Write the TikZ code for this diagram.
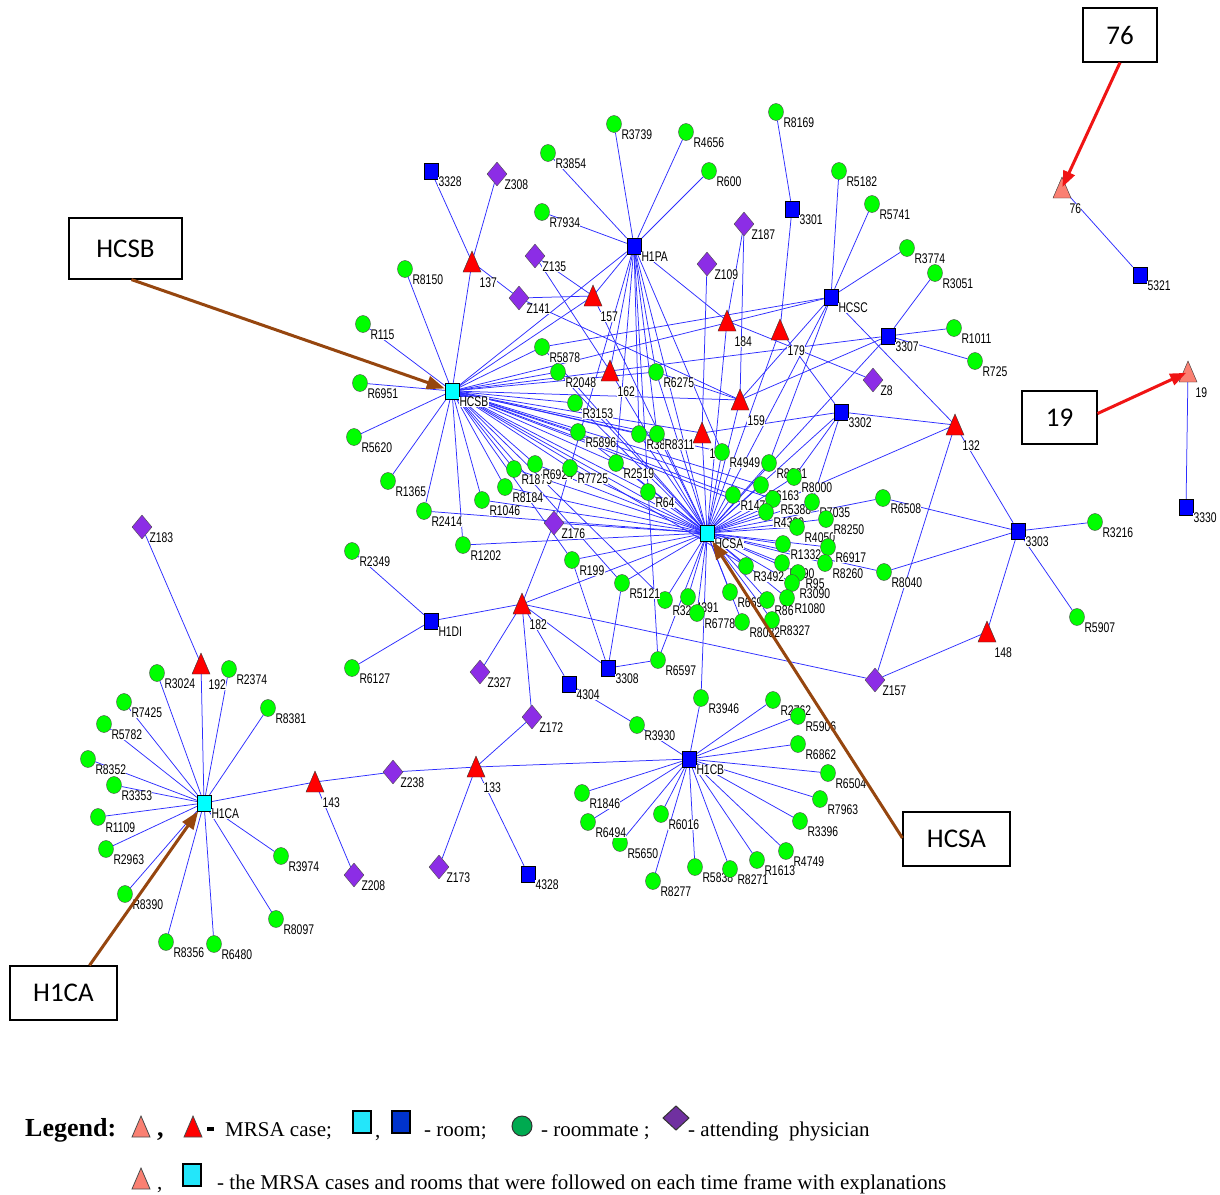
\documentclass[tikz,border=0pt]{standalone}
\usepackage{fontspec}
\setmainfont{Liberation Serif}
\newfontfamily\lblfont[FakeStretch=0.74]{Liberation Sans}
\newfontfamily\boxfont{Carlito}
\usetikzlibrary{shapes.geometric,arrows.meta,calc}
\pgfdeclarelayer{bg}
\pgfsetlayers{bg,main}
\definecolor{rmg}{RGB}{0,255,0}
\definecolor{rmb}{RGB}{0,0,255}
\definecolor{rmc}{RGB}{0,255,255}
\definecolor{cred}{RGB}{255,0,0}
\definecolor{cpink}{RGB}{250,128,114}
\definecolor{dviol}{RGB}{140,45,230}
\definecolor{edgeb}{RGB}{45,45,255}
\definecolor{arrbrown}{RGB}{150,70,15}
\definecolor{arrred}{RGB}{240,20,20}
\definecolor{lgcyan}{RGB}{35,230,250}
\definecolor{lgblue}{RGB}{0,51,204}
\definecolor{lggreen}{RGB}{0,170,80}
\definecolor{lgviol}{RGB}{112,48,160}
\tikzset{
  rmnode/.style={ellipse, draw=black!70, line width=0.4pt, fill=rmg, minimum width=15pt, minimum height=17pt, inner sep=0},
  roomnode/.style={rectangle, draw=black, line width=0.5pt, fill=rmb, minimum width=14pt, minimum height=16pt, inner sep=0},
  roomcy/.style={roomnode, fill=rmc},
  docnode/.style={diamond, draw=black!70, line width=0.4pt, fill=dviol, minimum width=20pt, minimum height=24pt, inner sep=0},
  lbl/.style={font=\lblfont\fontsize{14}{14}\selectfont, fill=white, inner sep=0.3pt, anchor=west},
  edge/.style={draw=edgeb, line width=0.75pt},
  callout/.style={draw=black, line width=1.2pt, fill=white, font=\boxfont\fontsize{27}{27}\selectfont},
  brownarrow/.style={draw=arrbrown, line width=3pt, -{Triangle[length=18pt,width=13pt]}},
  redarrow/.style={draw=arrred, line width=3pt, -{Triangle[length=16pt,width=12pt]}},
  lgtext/.style={font=\fontsize{21}{21}\selectfont, anchor=base west, inner sep=0}
}
\newcommand\mknd[5]{\node[#2] (#1) at (#3,#4) {};\node[lbl] at (#3+7,#4+11) {#5};}
\newcommand\mktri[5]{\coordinate (#1) at (#3,#4);
  \filldraw[fill=#2, draw=black!80, line width=0.4pt] (#3,#4-11) -- (#3-9,#4+10) -- (#3+9,#4+10) -- cycle;
  \node[lbl] at (#3+7,#4+21) {#5};}
\begin{document}
\begin{tikzpicture}[x=1pt,y=-1pt]
\useasboundingbox (0,0) rectangle (1220,1194);
\begin{pgfonlayer}{bg}
\fill[white] (0,0) rectangle (1220,1194);
\end{pgfonlayer}
% ---------- nodes ----------
\mknd{r3739}{rmnode}{614}{124}{R3739}
\mknd{r4656}{rmnode}{686}{132}{R4656}
\mknd{r600}{rmnode}{709}{171}{R600}
\mknd{r8169}{rmnode}{776}{112}{R8169}
\mknd{r3854}{rmnode}{548}{153}{R3854}
\mknd{s3328}{roomnode}{431}{171}{3328}
\mknd{z308}{docnode}{497}{174}{Z308}
\mknd{r7934}{rmnode}{542}{212}{R7934}
\mknd{s3301}{roomnode}{792}{209}{3301}
\mknd{z187}{docnode}{744}{224}{Z187}
\mknd{r5182}{rmnode}{839}{171}{R5182}
\mknd{r5741}{rmnode}{872}{204}{R5741}
\mknd{h1pa}{roomnode}{634}{246}{H1PA}
\mknd{z135}{docnode}{535}{256}{Z135}
\mknd{z109}{docnode}{707}{264}{Z109}
\mknd{r3774}{rmnode}{907}{248}{R3774}
\mknd{r3051}{rmnode}{935}{273}{R3051}
\mknd{r8150}{rmnode}{405}{269}{R8150}
\mktri{t137}{cred}{472}{262}{137}
\mknd{z141}{docnode}{519}{298}{Z141}
\mktri{t157}{cred}{593}{296}{157}
\mknd{hcsc}{roomnode}{831}{297}{HCSC}
\mktri{t184}{cred}{727}{321}{184}
\mktri{t179}{cred}{780}{330}{179}
\mknd{s3307}{roomnode}{888}{336}{3307}
\mknd{r1011}{rmnode}{954}{328}{R1011}
\mknd{r725}{rmnode}{975}{361}{R725}
\mknd{r115}{rmnode}{363}{324}{R115}
\mknd{r5878}{rmnode}{542}{347}{R5878}
\mknd{r2048}{rmnode}{558}{372}{R2048}
\mktri{t162}{cred}{610}{371}{162}
\mknd{r6275}{rmnode}{656}{372}{R6275}
\mknd{z8}{docnode}{873}{380}{Z8}
\mknd{r6951}{rmnode}{360}{383}{R6951}
\mknd{hcsb}{roomcy}{452}{391}{HCSB}
\mktri{t159}{cred}{740}{400}{159}
\mknd{r3153}{rmnode}{575}{403}{R3153}
\mknd{s3302}{roomnode}{841}{412}{3302}
\mktri{t132}{cred}{955}{425}{132}
\mknd{r5896}{rmnode}{578}{432}{R5896}
\mknd{r38}{rmnode}{639}{434}{R38}
\mknd{r8311}{rmnode}{657}{434}{R8311}
\mktri{t1}{cred}{702}{433}{1}
\mknd{r4949}{rmnode}{722}{452}{R4949}
\mknd{r5620}{rmnode}{354}{437}{R5620}
\mknd{r8291}{rmnode}{769}{463}{R8221}
\mknd{r1474}{rmnode}{733}{495}{R1474}
\mknd{r6163}{rmnode}{761}{485}{R6163}
\mknd{r8000}{rmnode}{794}{477}{R8000}
\mknd{r5388}{rmnode}{773}{499}{R5388}
\mknd{r4399}{rmnode}{766}{512}{R4399}
\mknd{r7035}{rmnode}{812}{502}{R7035}
\mknd{r4050}{rmnode}{797}{527}{R4050}
\mknd{r8250}{rmnode}{826}{519}{R8250}
\mknd{r1332}{rmnode}{783}{544}{R1332}
\mknd{r6917}{rmnode}{828}{547}{R6917}
\mknd{r3492}{rmnode}{746}{566}{R3492}
\mknd{r3905}{rmnode}{782}{563}{R390}
\mknd{r4195}{rmnode}{798}{573}{R95}
\mknd{r8260}{rmnode}{825}{563}{R8260}
\mknd{r3090}{rmnode}{792}{583}{R3090}
\mknd{r6696}{rmnode}{730}{592}{R6696}
\mknd{r1080}{rmnode}{787}{598}{R1080}
\mknd{r8626}{rmnode}{767}{600}{R86}
\mknd{r3247}{rmnode}{665}{600}{R324}
\mknd{r4391}{rmnode}{688}{597}{4391}
\mknd{r6778}{rmnode}{697}{613}{R6778}
\mknd{r8032}{rmnode}{742}{622}{R8032}
\mknd{r8327}{rmnode}{772}{620}{R8327}
\mknd{r5121}{rmnode}{622}{583}{R5121}
\mknd{r199}{rmnode}{572}{560}{R199}
\mknd{r2519}{rmnode}{616}{463}{R2519}
\mknd{r64}{rmnode}{648}{492}{R64}
\mknd{r1875}{rmnode}{514}{469}{R1875}
\mknd{r6924}{rmnode}{535}{464}{R6924}
\mknd{r7725}{rmnode}{570}{468}{R7725}
\mknd{r8184}{rmnode}{505}{487}{R8184}
\mknd{r1046}{rmnode}{482}{500}{R1046}
\mknd{r2414}{rmnode}{424}{511}{R2414}
\mknd{r1365}{rmnode}{388}{481}{R1365}
\mknd{r1202}{rmnode}{463}{545}{R1202}
\mknd{hcsa}{roomcy}{707}{533}{HCSA}
\mknd{z176}{docnode}{554}{523}{Z176}
\mknd{r6508}{rmnode}{883}{498}{R6508}
\mknd{r8040}{rmnode}{884}{572}{R8040}
\mknd{s3303}{roomnode}{1018}{531}{3303}
\mknd{r3216}{rmnode}{1095}{522}{R3216}
\mknd{r5907}{rmnode}{1077}{617}{R5907}
\mktri{t148}{cred}{987}{632}{148}
\mknd{z157}{docnode}{875}{680}{Z157}
\mknd{r2349}{rmnode}{352}{551}{R2349}
\mknd{h1di}{roomnode}{431}{621}{H1DI}
\mktri{t182}{cred}{522}{604}{182}
\mknd{r6127}{rmnode}{352}{668}{R6127}
\mknd{z327}{docnode}{480}{672}{Z327}
\mknd{s3308}{roomnode}{608}{668}{3308}
\mknd{s4304}{roomnode}{569}{684}{4304}
\mknd{r6597}{rmnode}{658}{660}{R6597}
\mknd{z172}{docnode}{532}{717}{Z172}
\mknd{r3946}{rmnode}{701}{698}{R3946}
\mknd{r3930}{rmnode}{637}{725}{R3930}
\mknd{r2762}{rmnode}{773}{700}{R2762}
\mknd{r5906}{rmnode}{798}{716}{R5906}
\mknd{r6862}{rmnode}{798}{744}{R6862}
\mknd{h1cb}{roomnode}{689}{759}{H1CB}
\mknd{r6504}{rmnode}{828}{773}{R6504}
\mknd{r7963}{rmnode}{820}{799}{R7963}
\mknd{r3396}{rmnode}{800}{821}{R3396}
\mknd{r4749}{rmnode}{786}{851}{R4749}
\mknd{r1613}{rmnode}{757}{860}{R1613}
\mknd{r5838}{rmnode}{695}{867}{R5838}
\mknd{r8271}{rmnode}{730}{869}{R8271}
\mknd{r8277}{rmnode}{653}{881}{R8277}
\mknd{r5650}{rmnode}{620}{843}{R5650}
\mknd{r6016}{rmnode}{661}{814}{R6016}
\mknd{r1846}{rmnode}{582}{793}{R1846}
\mknd{r6494}{rmnode}{588}{822}{R6494}
\mktri{t133}{cred}{476}{767}{133}
\mknd{z238}{docnode}{393}{772}{Z238}
\mktri{t143}{cred}{315}{782}{143}
\mknd{z173}{docnode}{439}{867}{Z173}
\mknd{s4328}{roomnode}{528}{874}{4328}
\mknd{z208}{docnode}{354}{875}{Z208}
\mknd{z183}{docnode}{142}{527}{Z183}
\mktri{t192}{cred}{201}{664}{192}
\mknd{r3024}{rmnode}{157}{673}{R3024}
\mknd{r2374}{rmnode}{229}{669}{R2374}
\mknd{r7425}{rmnode}{124}{702}{R7425}
\mknd{r8381}{rmnode}{268}{708}{R8381}
\mknd{r5782}{rmnode}{104}{724}{R5782}
\mknd{r8352}{rmnode}{88}{759}{R8352}
\mknd{r3353}{rmnode}{114}{785}{R3353}
\mknd{h1ca}{roomcy}{204}{803}{H1CA}
\mknd{r1109}{rmnode}{98}{817}{R1109}
\mknd{r2963}{rmnode}{106}{849}{R2963}
\mknd{r3974}{rmnode}{281}{856}{R3974}
\mknd{r8390}{rmnode}{125}{894}{R8390}
\mknd{r8097}{rmnode}{276}{919}{R8097}
\mknd{r8356}{rmnode}{166}{942}{R8356}
\mknd{r6480}{rmnode}{214}{944}{R6480}
\mktri{t76}{cpink}{1062}{188}{76}
\mknd{s5321}{roomnode}{1140}{275}{5321}
\mktri{t19}{cpink}{1188}{372}{19}
\mknd{s3330}{roomnode}{1186}{507}{3330}
% ---------- edges ----------
\begin{pgfonlayer}{bg}
\foreach \a/\b in {h1ca/r3024, h1ca/t192, h1ca/r2374, h1ca/r8381, h1ca/r7425, h1ca/r5782, h1ca/r8352, h1ca/r3353, h1ca/r1109, h1ca/r2963, h1ca/r8390, h1ca/r8356, h1ca/r6480, h1ca/r8097, h1ca/r3974, h1ca/t143,
 t192/z183, t143/z238, t143/z208, z238/t133, t133/h1cb, t133/z172, t133/z173, t133/s4328,
 t182/z172, t182/z327, t182/h1di, t182/z176, t182/hcsa, t182/z157, t182/s3308, t182/s4304,
 h1di/r2349, h1di/r6127, s4304/r3930, s3308/r199, s3308/r5121, s3308/r6597, r6597/hcsa, r6597/h1pa,
 h1cb/r3946, h1cb/r2762, h1cb/r5906, h1cb/r6862, h1cb/r6504, h1cb/r7963, h1cb/r3396, h1cb/r4749, h1cb/r1613, h1cb/r8271, h1cb/r5838, h1cb/r8277, h1cb/r6016, h1cb/r5650, h1cb/r6494, h1cb/r1846, h1cb/r3930,
 r3946/hcsa, z157/t148, z157/t132, t148/s3303,
 s3303/r3216, s3303/r5907, s3303/r6508, s3303/r8040, s3303/t132,
 r6508/hcsa, r8040/hcsa, t132/s3302, t132/hcsa, t132/hcsc,
 s3302/t179, s3302/hcsa, s3302/r8000, s3302/r7035, s3302/t1,
 hcsc/r5182, hcsc/r5741, hcsc/r3774, hcsc/t159, hcsc/hcsa, hcsc/r5878, hcsc/r8291,
 s3307/r1011, s3307/r725, s3307/r3051, s3307/t159, s3307/hcsa, s3307/t162,
 s3301/r8169, s3301/t179, t179/hcsa, t184/z8, t184/h1pa, t184/z187, t184/hcsa, z187/t159, z109/t1,
 t1/hcsa, t1/hcsb, t159/hcsb, t159/hcsa, t159/r6275,
 h1pa/r3739, h1pa/r4656, h1pa/r600, h1pa/r3854, h1pa/r7934, h1pa/t157, h1pa/hcsb, h1pa/hcsa, h1pa/r6275, h1pa/t162, h1pa/r38, h1pa/r8311, h1pa/r2519, h1pa/r4949, h1pa/z176,
 t137/s3328, t137/z308, t137/z141, t137/hcsb, z141/t157, z141/t159, z135/t157, z135/t162,
 t157/hcsb, t157/hcsa, t162/hcsa, z176/hcsa, t76/s5321, t19/s3330}
  \draw[edge] (\a) -- (\b);
\foreach \b in {r8150, r115, r6951, r5620, r1365, r2414, r1202, r1046, r8184, r1875, r6924, r7725, r5878, r2048, r3153, r5896, r2519, r64, r38, r8311, t162, hcsa, hcsc, r4949, r1474, r6163, r5388, r4399, r3492, r5121, r199, r3247, r6275}
  \draw[edge] (hcsb) -- (\b);
\foreach \b in {r3153, r5896, r38, r8311, r2519, r64, r7725, r6924, r1875, r8184, r1046, r2414, r1202, r2048, r5878, r6275, r4949, r8291, r8000, r6163, r1474, r5388, r4399, r7035, r8250, r4050, r1332, r6917, r8260, r3492, r3905, r4195, r3090, r1080, r8626, r6696, r8327, r8032, r6778, r4391, r3247, r5121, r199}
  \draw[edge] (hcsa) -- (\b);
\end{pgfonlayer}
% ---------- callouts ----------
\node[callout, minimum width=74pt, minimum height=54pt] (b76) at (1120,35) {76};
\node[callout, minimum width=113pt, minimum height=61pt] (bhcsb) at (125.5,248.5) {HCSB};
\node[callout, minimum width=75pt, minimum height=53pt] (b19) at (1059.5,417.5) {19};
\node[callout, minimum width=107pt, minimum height=54pt] (bhcsa) at (956.5,839) {HCSA};
\node[callout, minimum width=107pt, minimum height=54pt] (bh1ca) at (63.5,993) {H1CA};
\draw[redarrow, shorten >=1pt] (b76.south) -- (t76);
\draw[redarrow, shorten >=2pt] ([yshift=4pt]b19.east) -- (t19);
\draw[brownarrow] ([xshift=6pt]bhcsb.south) -- (hcsb);
\draw[brownarrow] ([yshift=1pt]bhcsa.west) -- (hcsa);
\draw[brownarrow] ([xshift=26pt]bh1ca.north) -- (h1ca);
% ---------- legend ----------
\node[font=\bfseries\fontsize{26}{26}\selectfont, anchor=base west, inner sep=0] (lg) at (25,1136) {Legend:};
\filldraw[fill=cpink, draw=black!70, line width=0.8pt] (141,1116) -- (132,1137) -- (150,1137) -- cycle;
\node[font=\bfseries\fontsize{26}{26}\selectfont, anchor=base west, inner sep=0] (lgc1) at (157,1136) {,};
\filldraw[fill=cred, draw=black!70, line width=0.8pt] (193,1116) -- (184,1137) -- (202,1137) -- cycle;
\fill[black] (207,1127) rectangle (214,1131);
\node[lgtext] (lgt1) at (225,1136) {MRSA case;};
\filldraw[fill=lgcyan, draw=black, line width=1.5pt] (353,1111) rectangle (371,1133);
\node[lgtext] (lgc2) at (375,1137) {,};
\filldraw[fill=lgblue, draw=black, line width=1.5pt] (392,1111) rectangle (410,1133);
\node[lgtext] (lgt2) at (424,1136) {- room;};
\filldraw[fill=lggreen, draw=black!80, line width=1pt] (522,1126) circle (10);
\node[lgtext] (lgt3) at (541,1136) {- roommate ;};
\filldraw[fill=lgviol, draw=black!80, line width=1pt] (676,1106) -- (689,1118) -- (676,1130) -- (663,1118) -- cycle;
\node[lgtext] (lgt4) at (688,1136) {- attending~ physician};
\filldraw[fill=cpink, draw=black!70, line width=0.8pt] (141,1168) -- (132,1189) -- (150,1189) -- cycle;
\node[lgtext] (lgc3) at (157,1189) {,};
\filldraw[fill=lgcyan, draw=black, line width=1.5pt] (183,1164) rectangle (201,1186);
\node[lgtext] (lgt5) at (217,1189) {- the MRSA cases and rooms that were followed on each time frame with explanations};
\end{tikzpicture}
\end{document}
